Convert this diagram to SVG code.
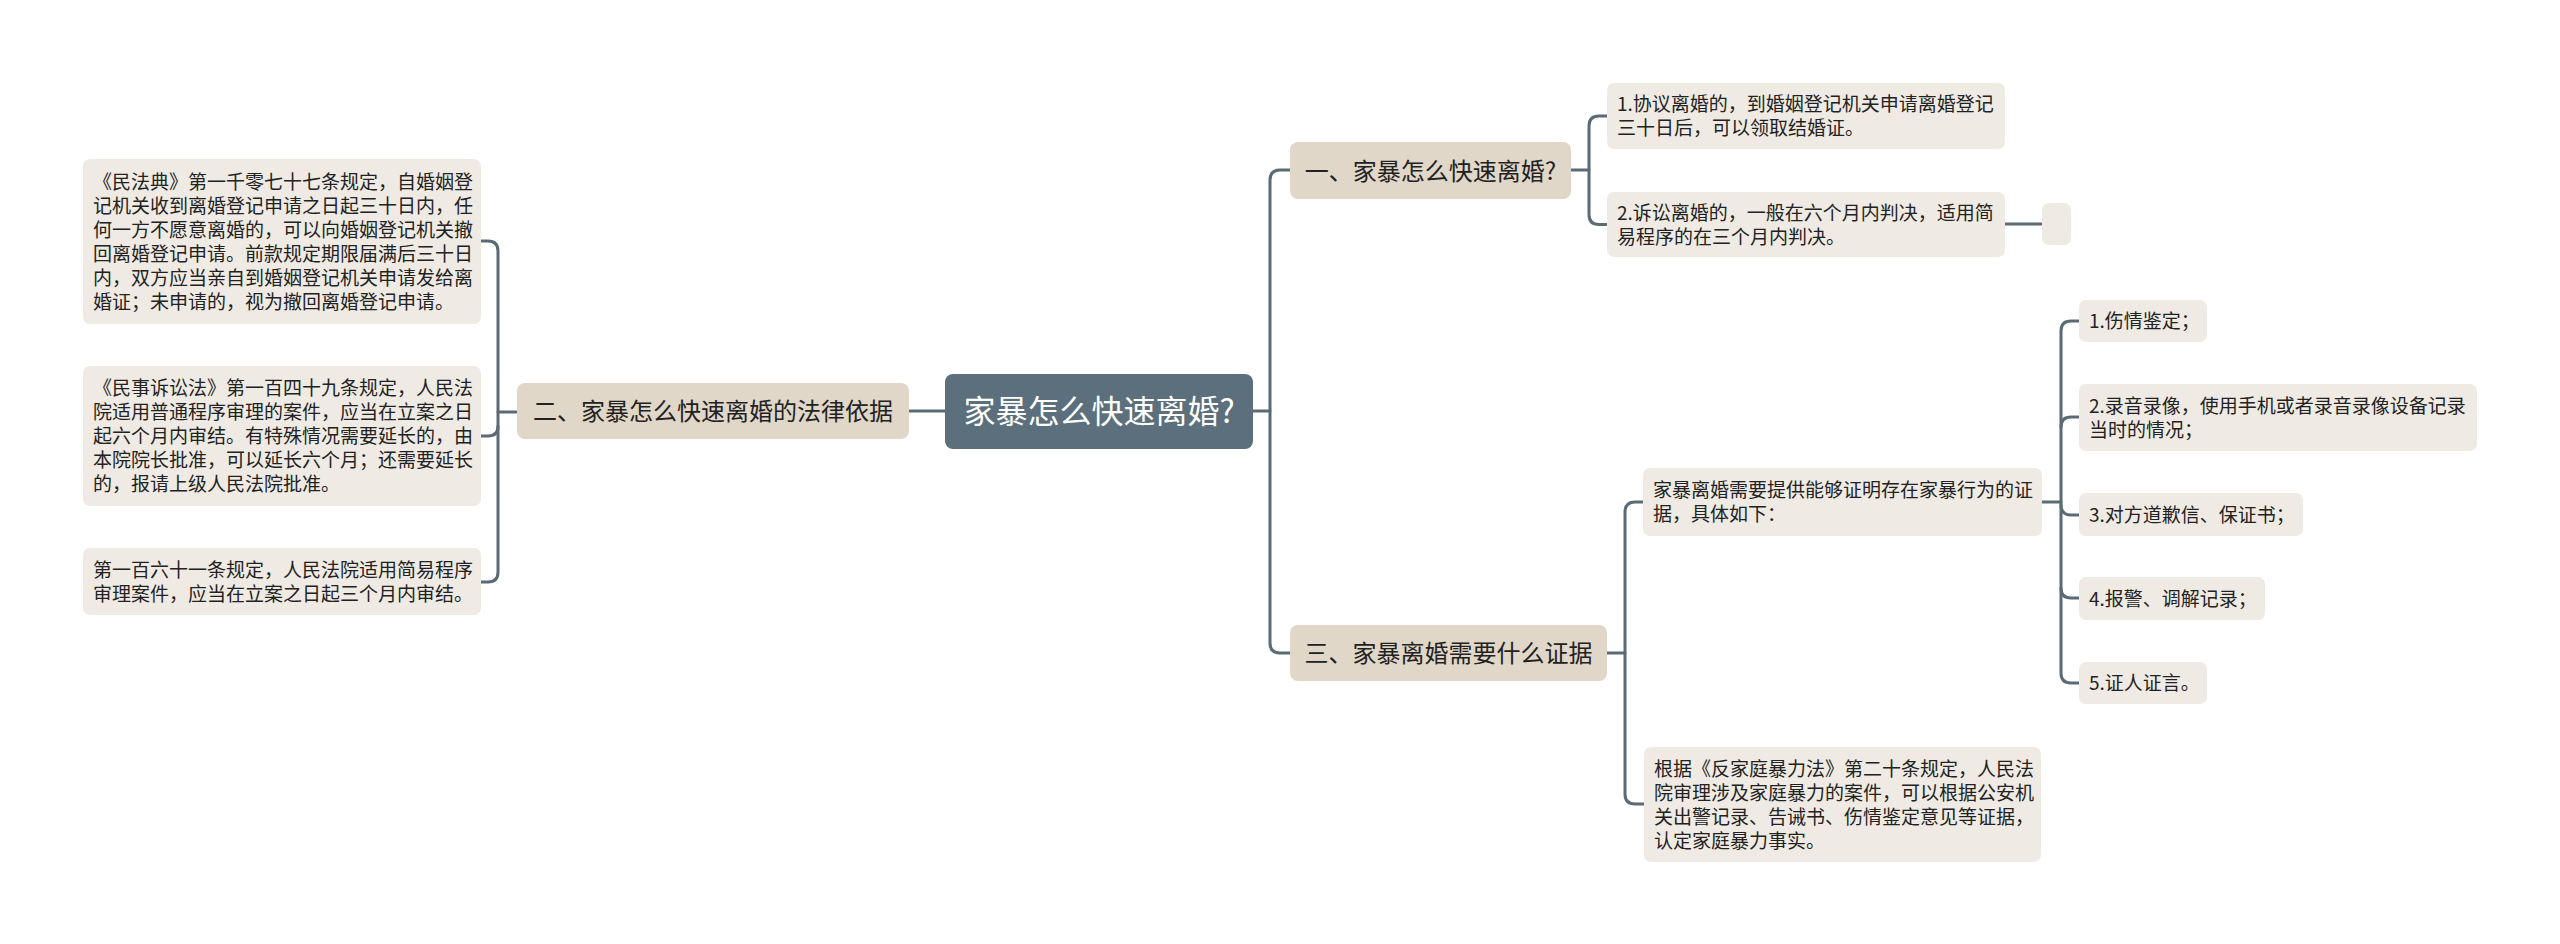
<svg xmlns="http://www.w3.org/2000/svg" width="2560" height="944" viewBox="0 0 2560 944">
<style>
.conn{fill:none;stroke:#5b6b76;stroke-width:3;stroke-linecap:round}
.leaf{fill:#efebe4}
.l1{fill:#e0d7c8}
.root{fill:#5b6f7c}
.t{font-family:"Noto Sans CJK SC","Noto Sans",sans-serif;fill:#222}
.s{font-size:19px}
.m{font-size:24px;text-anchor:middle}
.r{font-size:32px;text-anchor:middle;fill:#ffffff}
</style>
<rect width="2560" height="944" fill="#ffffff"/>
<g id="connectors">
<path class="conn" d="M1253,411 H1270"/>
<path class="conn" d="M1290,170 H1280 Q1270,170 1270,180 V643 Q1270,653 1280,653 H1290"/>
<path class="conn" d="M945,411 H909"/>
<path class="conn" d="M517,412 H498"/>
<path class="conn" d="M481,241 H488 Q498,241 498,251 V572 Q498,582 488,582 H481"/>
<path class="conn" d="M481,436 H488 Q498,436 498,426"/>
<path class="conn" d="M1571,170 H1589"/>
<path class="conn" d="M1607,116 H1599 Q1589,116 1589,126 V214.5 Q1589,224.5 1599,224.5 H1607"/>
<path class="conn" d="M2005,224 H2042"/>
<path class="conn" d="M1607,653 H1625"/>
<path class="conn" d="M1643,502 H1635 Q1625,502 1625,512 V794 Q1625,804 1635,804 H1644"/>
<path class="conn" d="M2042,502 H2061"/>
<path class="conn" d="M2079,321 H2071 Q2061,321 2061,331 V673 Q2061,683 2071,683 H2079"/>
<path class="conn" d="M2079,417 H2071 Q2061,417 2061,427"/>
<path class="conn" d="M2079,515 H2071 Q2061,515 2061,505"/>
<path class="conn" d="M2079,598 H2071 Q2061,598 2061,588"/>
</g>
<g id="root">
<rect class="root" x="945" y="374" width="308" height="75" rx="8"/>
<text class="t r" x="1099" y="423">家暴怎么快速离婚?</text>
</g>
<g id="b2">
<rect class="l1" x="517" y="383" width="392" height="56" rx="8"/>
<text class="t m" x="713" y="420">二、家暴怎么快速离婚的法律依据</text>
</g>
<g id="b2a">
<rect class="leaf" x="83" y="159" width="398" height="165" rx="7"/>
<text class="t s" x="93" y="188.5">《民法典》第一千零七十七条规定，自婚姻登</text>
<text class="t s" x="93" y="212.5">记机关收到离婚登记申请之日起三十日内，任</text>
<text class="t s" x="93" y="236.5">何一方不愿意离婚的，可以向婚姻登记机关撤</text>
<text class="t s" x="93" y="260.5">回离婚登记申请。前款规定期限届满后三十日</text>
<text class="t s" x="93" y="284.5">内，双方应当亲自到婚姻登记机关申请发给离</text>
<text class="t s" x="93" y="308.5">婚证；未申请的，视为撤回离婚登记申请。</text>
</g>
<g id="b2b">
<rect class="leaf" x="83" y="366" width="398" height="140" rx="7"/>
<text class="t s" x="93" y="395">《民事诉讼法》第一百四十九条规定，人民法</text>
<text class="t s" x="93" y="419">院适用普通程序审理的案件，应当在立案之日</text>
<text class="t s" x="93" y="443">起六个月内审结。有特殊情况需要延长的，由</text>
<text class="t s" x="93" y="467">本院院长批准，可以延长六个月；还需要延长</text>
<text class="t s" x="93" y="491">的，报请上级人民法院批准。</text>
</g>
<g id="b2c">
<rect class="leaf" x="83" y="548" width="398" height="67" rx="7"/>
<text class="t s" x="93" y="576.5">第一百六十一条规定，人民法院适用简易程序</text>
<text class="t s" x="93" y="600.5">审理案件，应当在立案之日起三个月内审结。</text>
</g>
<g id="b1">
<rect class="l1" x="1290" y="142" width="281" height="57" rx="8"/>
<text class="t m" x="1430.5" y="179.5">一、家暴怎么快速离婚?</text>
</g>
<g id="b1a">
<rect class="leaf" x="1607" y="83" width="398" height="66" rx="7"/>
<text class="t s" x="1617" y="111">1.协议离婚的，到婚姻登记机关申请离婚登记</text>
<text class="t s" x="1617" y="135">三十日后，可以领取结婚证。</text>
</g>
<g id="b1b">
<rect class="leaf" x="1607" y="192" width="398" height="65" rx="7"/>
<text class="t s" x="1617" y="219.5">2.诉讼离婚的，一般在六个月内判决，适用简</text>
<text class="t s" x="1617" y="243.5">易程序的在三个月内判决。</text>
</g>
<g id="b1b1">
<rect class="leaf" x="2042" y="203" width="29" height="42" rx="7"/>
</g>
<g id="b3">
<rect class="l1" x="1290" y="625" width="317" height="56" rx="8"/>
<text class="t m" x="1448.5" y="662">三、家暴离婚需要什么证据</text>
</g>
<g id="b3a">
<rect class="leaf" x="1643" y="468" width="399" height="68" rx="7"/>
<text class="t s" x="1653" y="497">家暴离婚需要提供能够证明存在家暴行为的证</text>
<text class="t s" x="1653" y="521">据，具体如下：</text>
</g>
<g id="b3a1">
<rect class="leaf" x="2079" y="300" width="128" height="42" rx="7"/>
<text class="t s" x="2089" y="328">1.伤情鉴定；</text>
</g>
<g id="b3a2">
<rect class="leaf" x="2079" y="384" width="398" height="67" rx="7"/>
<text class="t s" x="2089" y="412.5">2.录音录像，使用手机或者录音录像设备记录</text>
<text class="t s" x="2089" y="436.5">当时的情况；</text>
</g>
<g id="b3a3">
<rect class="leaf" x="2079" y="493" width="224" height="43" rx="7"/>
<text class="t s" x="2089" y="521.5">3.对方道歉信、保证书；</text>
</g>
<g id="b3a4">
<rect class="leaf" x="2079" y="577" width="186" height="43" rx="7"/>
<text class="t s" x="2089" y="605.5">4.报警、调解记录；</text>
</g>
<g id="b3a5">
<rect class="leaf" x="2079" y="662" width="128" height="42" rx="7"/>
<text class="t s" x="2089" y="690">5.证人证言。</text>
</g>
<g id="b3b">
<rect class="leaf" x="1644" y="747" width="397" height="115" rx="7"/>
<text class="t s" x="1654" y="775.5">根据《反家庭暴力法》第二十条规定，人民法</text>
<text class="t s" x="1654" y="799.5">院审理涉及家庭暴力的案件，可以根据公安机</text>
<text class="t s" x="1654" y="823.5">关出警记录、告诫书、伤情鉴定意见等证据，</text>
<text class="t s" x="1654" y="847.5">认定家庭暴力事实。</text>
</g>
</svg>
